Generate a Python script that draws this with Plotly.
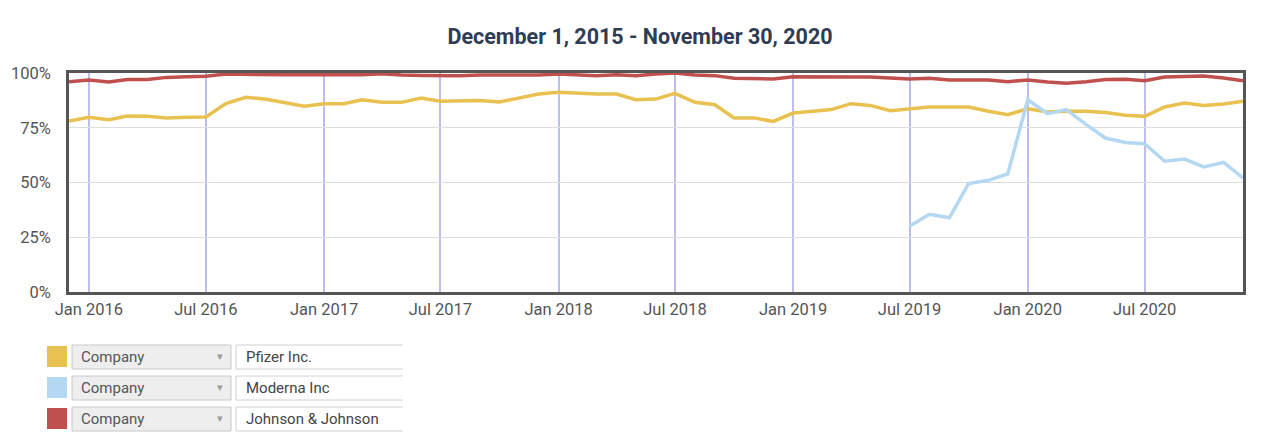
import pandas as pd
import plotly.graph_objects as go

# monthly share values, Dec 2015 .. Dec 2020
months = pd.date_range("2015-12-01", periods=61, freq="MS")

pfizer = [78.1, 79.8, 78.7, 80.4, 80.2, 79.5, 79.8, 79.9, 86.0, 88.9, 88.1, 86.3,
          84.8, 86.0, 86.0, 87.8, 86.6, 86.6, 88.6, 87.1, 87.4, 87.4, 86.8, 88.6,
          90.4, 91.2, 90.7, 90.4, 90.4, 87.8, 88.1, 90.7, 86.6, 85.5, 79.5, 79.5,
          77.9, 81.7, 82.5, 83.3, 86.0, 85.2, 82.8, 83.7, 84.5, 84.5, 84.5, 82.5,
          81.0, 83.7, 82.2, 82.5, 82.5, 82.0, 80.7, 80.2, 84.5, 86.3, 85.2, 85.8,
          87.1]

moderna = [None] * 43 + [30.0, 35.5, 33.9, 49.5, 51.0, 53.9, 87.8, 81.4, 83.3,
                         76.4, 70.3, 68.3, 67.7, 59.7, 60.7, 57.1, 59.2, 52.1]

jnj = [96.0, 96.8, 95.9, 97.0, 97.0, 98.0, 98.3, 98.5, 99.5, 99.3, 99.3, 99.2,
       99.2, 99.2, 99.3, 99.2, 99.7, 99.1, 98.9, 98.8, 98.8, 99.1, 99.1, 99.1,
       99.1, 99.5, 99.1, 98.8, 99.2, 98.8, 99.5, 100.0, 99.1, 98.8, 97.6, 97.3,
       97.3, 98.3, 98.2, 98.2, 98.2, 98.2, 97.7, 97.3, 97.6, 96.8, 96.8, 96.8,
       96.0, 96.8, 95.9, 95.3, 96.0, 97.0, 97.1, 96.5, 98.2, 98.5, 98.6, 97.7,
       96.5]

names = ["Pfizer Inc.", "Moderna Inc", "Johnson & Johnson"]
colors = ["#E8C150", "#B4D7F2", "#C0504D"]

y_ticks = [0, 25, 50, 75, 100]
y_labels = ["0%", "25%", "50%", "75%", "100%"]

# page body has an 8px margin on every side; keep the figure inside the window
OFF = 8
W, H = 1280 - 2 * OFF, 447 - 2 * OFF
L, R, T, B = 69, 1243, 73, 292


def px(x):
    return (x - L) / (R - L)


def py(y):
    return (B - y) / (B - T)


fig = go.Figure()
for vals, name, col in zip([pfizer, moderna, jnj], names, colors):
    fig.add_trace(go.Scatter(x=months, y=vals, name=name, mode="lines",
                             line=dict(color=col, width=3.5), connectgaps=False))

# legend widgets under the plot
row_tops = [346, 377, 408]
shapes = []
annots = []
for top, name, col in zip(row_tops, names, colors):
    shapes.append(dict(type="rect", xref="paper", yref="paper",
                       x0=px(47), x1=px(67), y0=py(top), y1=py(top + 21),
                       fillcolor=col, line=dict(width=0)))
    shapes.append(dict(type="rect", xref="paper", yref="paper",
                       x0=px(72), x1=px(231), y0=py(top - 1), y1=py(top + 23),
                       fillcolor="#eeeeee", line=dict(color="#c8c8c8", width=1)))
    shapes.append(dict(type="path", xref="paper", yref="paper",
                       path=f"M {px(403)},{py(top - 1)} L {px(236)},{py(top - 1)} "
                            f"L {px(236)},{py(top + 23)} L {px(403)},{py(top + 23)}",
                       line=dict(color="#d0d0d0", width=1)))
    annots.append(dict(text="Company", xref="paper", yref="paper", x=px(79), y=py(top + 11),
                       xanchor="left", yanchor="middle", showarrow=False,
                       font=dict(size=15, color="#555555")))
    annots.append(dict(text="▾", xref="paper", yref="paper", x=px(220), y=py(top + 10),
                       xanchor="center", yanchor="middle", showarrow=False,
                       font=dict(size=11, color="#999999")))
    annots.append(dict(text=name, xref="paper", yref="paper", x=px(244), y=py(top + 11),
                       xanchor="left", yanchor="middle", showarrow=False,
                       font=dict(size=15, color="#444444")))

fig.update_layout(
    width=W, height=H,
    margin=dict(l=L - OFF, r=W + OFF - R, t=T - OFF, b=H + OFF - B),
    paper_bgcolor="white", plot_bgcolor="white",
    font=dict(family="Roboto", size=16, color="#555555"),
    title=dict(text="<b>December 1, 2015 - November 30, 2020</b>",
               x=(640 - OFF) / W, xanchor="center",
               y=1 - (36 - OFF) / H, yanchor="middle",
               font=dict(family="Roboto", size=21.5, color="#2E3D55")),
    showlegend=False,
    shapes=shapes,
    annotations=annots,
)
fig.update_xaxes(range=[months[0], months[-1]], tick0="2016-01-01", dtick="M6",
                 tickformat="%b %Y", showgrid=True, gridcolor="#BEBEEE", gridwidth=2,
                 showline=True, linecolor="#555555", linewidth=2.5, mirror=True,
                 ticks="", tickfont=dict(size=16.5, color="#555555"), zeroline=False,
                 automargin=False)
fig.update_yaxes(range=[0, 100], tickvals=y_ticks, ticktext=y_labels,
                 showgrid=True, gridcolor="#dddddd", gridwidth=1,
                 showline=True, linecolor="#555555", linewidth=2.5, mirror=True,
                 ticks="outside", ticklen=12, tickcolor="rgba(0,0,0,0)",
                 tickfont=dict(size=16.5, color="#555555"), zeroline=False,
                 automargin=False)

fig.write_html("out.html")
